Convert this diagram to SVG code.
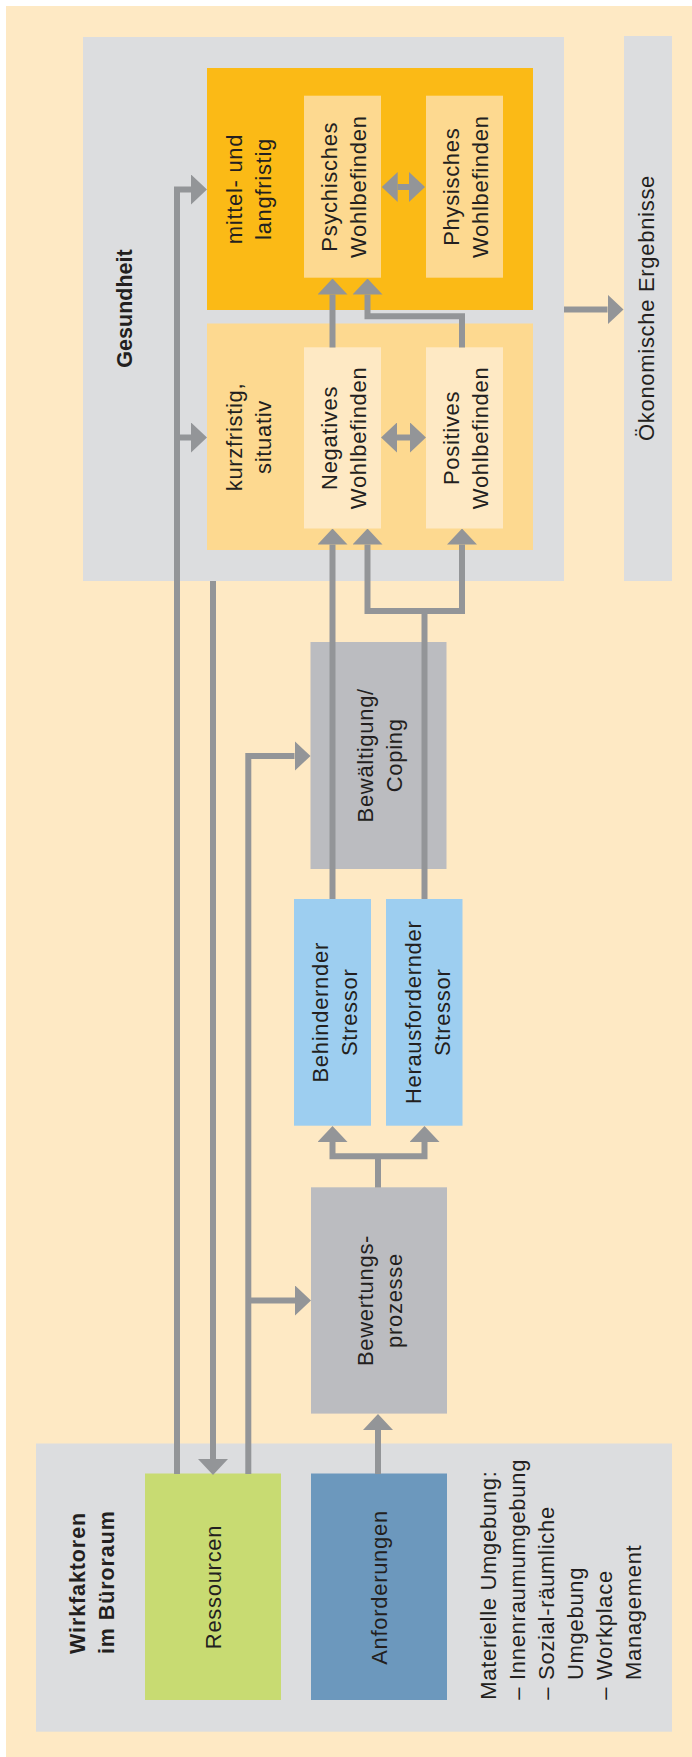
<svg xmlns="http://www.w3.org/2000/svg" width="692" height="1757" viewBox="0 0 692 1757">
<defs>
<style>
.t{font-family:"Liberation Sans",Arial,sans-serif;font-size:22px;letter-spacing:0.7px;fill:#231f20}
.b{font-family:"Liberation Sans",Arial,sans-serif;font-size:21.5px;font-weight:bold;fill:#231f20}
.gray{fill:#dcdddf}
.proc{fill:#bbbcc0}
.stress{fill:#9dcef0}
.lt{fill:#fdd990}
.pale{fill:#fee9c4}
.con{fill:none;stroke:#939598;stroke-width:6;stroke-linejoin:miter;stroke-linecap:butt}
</style>
<marker id="ah" markerUnits="userSpaceOnUse" markerWidth="16" markerHeight="30" viewBox="0 0 16 30" refX="0" refY="15" orient="auto-start-reverse">
<path d="M0,0 L16,15 L0,30 Z" fill="#939598"/>
</marker>
</defs>
<rect x="0" y="0" width="692" height="1757" fill="#ffffff"/>
<rect x="6" y="6" width="686" height="1751" class="pale"/>

<g id="gesundheit">
<rect x="83" y="37" width="481" height="544" class="gray"/>
<text class="b" text-anchor="middle" transform="translate(131.5,308.5) rotate(-90)">Gesundheit</text>
</g>
<g id="oekonomisch">
<rect x="624" y="36" width="48" height="545" class="gray"/>
<text class="t" text-anchor="middle" transform="translate(654,308) rotate(-90)">Ökonomische Ergebnisse</text>
</g>
<g id="mittel">
<rect x="207" y="68" width="326" height="242" fill="#fbba16"/>
<text class="t" text-anchor="middle" transform="translate(241.5,189) rotate(-90)"><tspan x="0" y="0">mittel- und</tspan><tspan x="0" y="29">langfristig</tspan></text>
</g>
<g id="kurz">
<rect x="207" y="323.5" width="326" height="226.5" class="lt"/>
<text class="t" text-anchor="middle" transform="translate(241.5,437) rotate(-90)"><tspan x="0" y="0">kurzfristig,</tspan><tspan x="0" y="29">situativ</tspan></text>
</g>
<g id="psychisch">
<rect x="304" y="95.7" width="77" height="182" class="lt"/>
<text class="t" text-anchor="middle" transform="translate(336.5,186.7) rotate(-90)"><tspan x="0" y="0">Psychisches</tspan><tspan x="0" y="29.5">Wohlbefinden</tspan></text>
</g>
<g id="physisch">
<rect x="426" y="95.7" width="77" height="182" class="lt"/>
<text class="t" text-anchor="middle" transform="translate(458.5,186.7) rotate(-90)"><tspan x="0" y="0">Physisches</tspan><tspan x="0" y="29.5">Wohlbefinden</tspan></text>
</g>
<g id="negativ">
<rect x="304" y="347.3" width="77" height="181.2" class="pale"/>
<text class="t" text-anchor="middle" transform="translate(336.5,437.9) rotate(-90)"><tspan x="0" y="0">Negatives</tspan><tspan x="0" y="29.5">Wohlbefinden</tspan></text>
</g>
<g id="positiv">
<rect x="426" y="347.3" width="77" height="181.2" class="pale"/>
<text class="t" text-anchor="middle" transform="translate(458.5,437.9) rotate(-90)"><tspan x="0" y="0">Positives</tspan><tspan x="0" y="29.5">Wohlbefinden</tspan></text>
</g>
<g id="bewaeltigung">
<rect x="310.5" y="642" width="136" height="227" class="proc"/>
<text class="t" text-anchor="middle" transform="translate(372.5,755.3) rotate(-90)"><tspan x="0" y="0">Bewältigung/</tspan><tspan x="0" y="29">Coping</tspan></text>
</g>
<g id="behindernd">
<rect x="294" y="899" width="77" height="226.7" class="stress"/>
<text class="t" text-anchor="middle" transform="translate(328,1012.3) rotate(-90)"><tspan x="0" y="0">Behindernder</tspan><tspan x="0" y="29">Stressor</tspan></text>
</g>
<g id="herausfordernd">
<rect x="386" y="899" width="76.5" height="226.7" class="stress"/>
<text class="t" text-anchor="middle" transform="translate(420.5,1012.3) rotate(-90)"><tspan x="0" y="0">Herausfordernder</tspan><tspan x="0" y="29">Stressor</tspan></text>
</g>
<g id="bewertung">
<rect x="311" y="1187.3" width="136" height="226.3" class="proc"/>
<text class="t" text-anchor="middle" transform="translate(372.5,1300.5) rotate(-90)"><tspan x="0" y="0">Bewertungs-</tspan><tspan x="0" y="29">prozesse</tspan></text>
</g>
<g id="wirkfaktoren">
<rect x="36" y="1443.5" width="636" height="288.2" class="gray"/>
<text class="b" letter-spacing="0.9" transform="translate(84.5,1654) rotate(-90)"><tspan x="0" y="0">Wirkfaktoren</tspan><tspan x="0" y="29.5">im Büroraum</tspan></text>
<text class="t" transform="translate(495.5,1699.7) rotate(-90)"><tspan x="0" y="0">Materielle Umgebung:</tspan><tspan x="0" y="29">– Innenraumumgebung</tspan><tspan x="0" y="58">– Sozial-räumliche</tspan><tspan x="19.7" y="87">Umgebung</tspan><tspan x="0" y="116">– Workplace</tspan><tspan x="19.7" y="145">Management</tspan></text>
</g>
<g id="ressourcen">
<rect x="145" y="1473.5" width="136" height="226.5" fill="#c8db72"/>
<text class="t" text-anchor="middle" transform="translate(221,1587) rotate(-90)">Ressourcen</text>
</g>
<g id="anforderungen">
<rect x="311" y="1473.5" width="136" height="226.5" fill="#6c98bd"/>
<text class="t" text-anchor="middle" transform="translate(387,1587.5) rotate(-90)">Anforderungen</text>
</g>

<g id="connectors" class="con">
<path d="M177,1474 V189.5 H191" marker-end="url(#ah)"/>
<path d="M177,437.5 H191" marker-end="url(#ah)"/>
<path d="M213,581 V1459" marker-end="url(#ah)"/>
<path d="M248.3,1474 V756 H294.5" marker-end="url(#ah)"/>
<path d="M248.3,1300.5 H295" marker-end="url(#ah)"/>
<path d="M378,1474 V1430" marker-end="url(#ah)"/>
<path d="M378,1187.5 V1156.3"/>
<path d="M332.5,1142 V1156.3 H424.5 V1142" marker-start="url(#ah)" marker-end="url(#ah)"/>
<path d="M332.5,899 V544.5" marker-end="url(#ah)"/>
<path d="M424.5,899 V611"/>
<path d="M367.5,544.5 V611 H462 V544.5" marker-start="url(#ah)" marker-end="url(#ah)"/>
<path d="M332.5,347.5 V294.5" marker-end="url(#ah)"/>
<path d="M462,347.5 V316.3 H367.5 V294.5" marker-end="url(#ah)"/>
<path d="M397.7,187 H409" marker-start="url(#ah)" marker-end="url(#ah)"/>
<path d="M397,437.5 H410" marker-start="url(#ah)" marker-end="url(#ah)"/>
<path d="M564,309.5 H607.5" marker-end="url(#ah)"/>
</g>
</svg>
